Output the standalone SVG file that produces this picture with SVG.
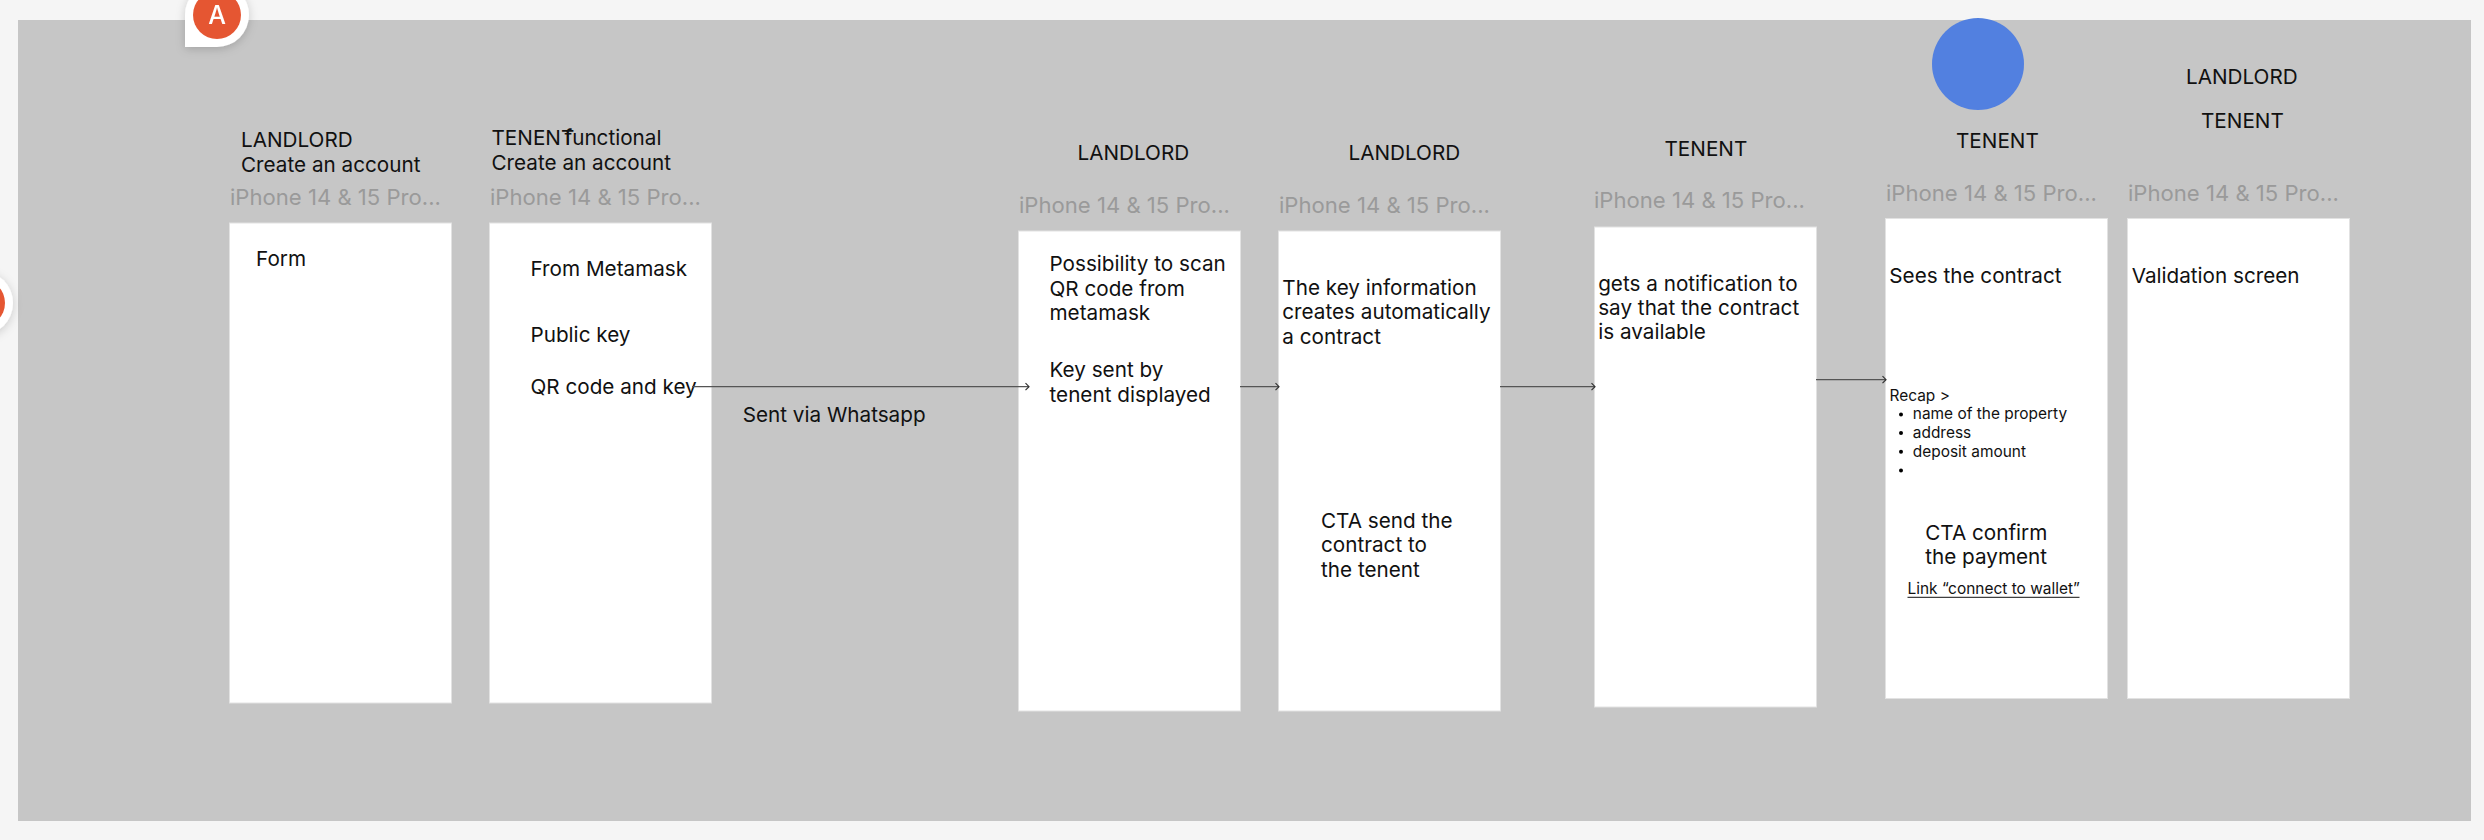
<svg xmlns="http://www.w3.org/2000/svg" width="2484" height="840" viewBox="0 0 2484 840">
<defs>
<style>
text{font-family:"Inter","Noto Sans","Liberation Sans",sans-serif;font-size:20.7px;fill:#111}
.dev{font-size:22.1px;fill:#9a9a9a}
.sm{font-size:15.45px}
.panel{fill:#fff;stroke:#e2e2e2;stroke-width:1}
.conn{fill:none;stroke:#555;stroke-width:1.3;marker-end:url(#arr)}
</style>
<marker id="arr" markerUnits="userSpaceOnUse" markerWidth="8" markerHeight="12" refX="7" refY="6" orient="auto"><path d="M3.5 2.5L7 6L3.5 9.5" fill="none" stroke="#333" stroke-width="1.2"/></marker>
<filter id="sh" x="-30%" y="-30%" width="160%" height="170%"><feDropShadow dx="0" dy="2" stdDeviation="5" flood-color="#000" flood-opacity="0.18"/></filter>
</defs>
<rect width="2484" height="840" fill="#f5f5f5"/>
<rect id="frame" x="18" y="20" width="2453" height="801" fill="#c6c6c6"/>
<g id="panel1"><text x="241" y="147">LANDLORD</text><text x="241" y="171.7">Create an account</text><text class="dev" x="230" y="204.7">iPhone 14 &amp; 15 Pro...</text><rect class="panel" x="229.5" y="223" width="222" height="480"/><text x="256" y="266">Form</text></g>
<g id="panel2"><text x="491.5" y="145">TENENT</text><text x="564.5" y="145">functional</text><text x="491.5" y="170">Create an account</text><text class="dev" x="490" y="204.7">iPhone 14 &amp; 15 Pro...</text><rect class="panel" x="489.5" y="223" width="222" height="480"/><text x="530.5" y="275.7">From Metamask</text><text x="530.5" y="342">Public key</text><text x="530.5" y="394">QR code and key</text></g>
<text id="whatsapp" x="742.7" y="421.7">Sent via Whatsapp</text>
<g id="panel3"><text x="1077.5" y="160">LANDLORD</text><text class="dev" x="1019" y="213.4">iPhone 14 &amp; 15 Pro...</text><rect class="panel" x="1018.5" y="231" width="222" height="480"/><text x="1049.5" y="271">Possibility to scan</text><text x="1049.5" y="295.7">QR code from</text><text x="1049.5" y="320">metamask</text><text x="1049.5" y="377">Key sent by</text><text x="1049.5" y="401.7">tenent displayed</text></g>
<g id="panel4"><text x="1348.5" y="160">LANDLORD</text><text class="dev" x="1279" y="213.4">iPhone 14 &amp; 15 Pro...</text><rect class="panel" x="1278.5" y="231" width="222" height="480"/><text x="1282.3" y="294.7">The key information</text><text x="1282.3" y="319">creates automatically</text><text x="1282.3" y="344">a contract</text><text x="1321" y="527.7">CTA send the</text><text x="1321" y="552.3">contract to</text><text x="1321" y="577">the tenent</text></g>
<g id="panel5"><text x="1664.5" y="155.7">TENENT</text><text class="dev" x="1594" y="208">iPhone 14 &amp; 15 Pro...</text><rect class="panel" x="1594.5" y="227" width="222" height="480"/><text x="1598.2" y="290.7">gets a notification to</text><text x="1598.2" y="315">say that the contract</text><text x="1598.2" y="339">is available</text></g>
<g id="panel6"><ellipse cx="1978" cy="64" rx="46" ry="46" fill="#5280e0"/><text x="1956" y="147.7">TENENT</text><text class="dev" x="1886" y="200.5">iPhone 14 &amp; 15 Pro...</text><rect class="panel" x="1885.5" y="218.5" width="222" height="480"/><text x="1889.3" y="282.7">Sees the contract</text><text class="sm" x="1889.5" y="400.7">Recap &gt;</text><circle cx="1901" cy="414.5" r="2"/><text class="sm" x="1912.8" y="419.3">name of the property</text><circle cx="1901" cy="433" r="2"/><text class="sm" x="1912.8" y="438">address</text><circle cx="1901" cy="451.7" r="2"/><text class="sm" x="1912.8" y="456.7">deposit amount</text><circle cx="1901" cy="470.5" r="2"/><text x="1925.2" y="540.3">CTA confirm</text><text x="1925.2" y="564">the payment</text><text class="sm" x="1907.5" y="594">Link “connect to wallet”</text><path d="M1907.5 597.3H2079.5" stroke="#111" stroke-width="1" fill="none"/></g>
<g id="panel7"><text x="2186" y="84.3">LANDLORD</text><text x="2201" y="127.7">TENENT</text><text class="dev" x="2128" y="200.5">iPhone 14 &amp; 15 Pro...</text><rect class="panel" x="2127.5" y="218.5" width="222" height="480"/><text x="2131.7" y="282.7">Validation screen</text></g>
<g id="connectors"><path class="conn" d="M692 386.7H1029"/><path class="conn" d="M1240 386.7H1279"/><path class="conn" d="M1500 386.7H1595"/><path class="conn" d="M1816 379.7H1886"/></g>
<g id="badge-a" filter="url(#sh)"><path d="M185 47V15A32 32 0 1 1 217 47Z" fill="#fff"/><circle cx="217" cy="15" r="24" fill="#e55733"/><text x="217" y="23.5" text-anchor="middle" style="font-size:25px;font-weight:500;fill:#fff">A</text></g>
<g id="badge-b" filter="url(#sh)"><circle cx="-19" cy="303" r="32" fill="#fff"/><circle cx="-19" cy="303" r="24" fill="#e55733"/></g>
</svg>
